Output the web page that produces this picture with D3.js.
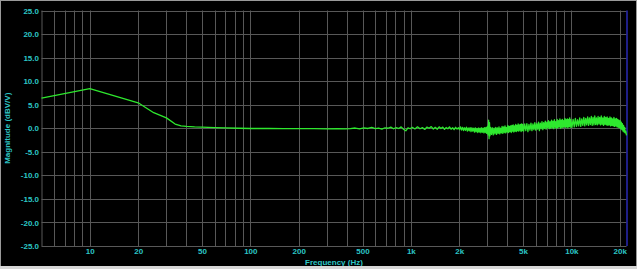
<!DOCTYPE html>
<html>
<head>
<meta charset="utf-8">
<script src="https://cdn.jsdelivr.net/npm/d3@7"></script>
<style>
  html, body { margin: 0; padding: 0; background: #000; }
  svg { display: block; }
  .lbl { font-family: "Liberation Sans", Arial, sans-serif; font-weight: bold; font-size: 8px; fill: #2cc6c6; }
</style>
</head>
<body>
<div id="container"></div>
<script>
// axis ticks
const xTickValues = [10, 20, 50, 100, 200, 500, 1000, 2000, 5000, 10000, 20000];
const xTickLabels = ["10", "20", "50", "100", "200", "500", "1k", "2k", "5k", "10k", "20k"];
const xGridValues = [6, 7, 8, 9, 10, 20, 30, 40, 50, 60, 70, 80, 90, 100, 200, 300, 400, 500, 600, 700, 800, 900,
  1000, 2000, 3000, 4000, 5000, 6000, 7000, 8000, 9000, 10000, 20000];
const yTickValues = [25, 20, 15, 10, 5, 0, -5, -10, -15, -20, -25];

// magnitude response, [Hz, dBV/V]
const lowBand = [[5, 6.4], [10, 8.4], [20, 5.4], [25, 3.3], [30, 2.2], [34, 0.9], [37, 0.5], [40, 0.4], [45, 0.3],
  [50, 0.25], [60, 0.15], [70, 0.1], [85, 0.0], [100, -0.05], [130, -0.05], [160, -0.1], [200, -0.1], [250, -0.1],
  [300, -0.12], [350, -0.1], [390, -0.15]];

const midBand = [[420, -0.1], [450, 0.05], [480, -0.15], [510, 0.1], [540, -0.05], [570, 0.2], [600, -0.1], [630, 0.05],
  [660, -0.2], [690, 0.1], [720, 0.0], [750, 0.25], [780, -0.1], [810, 0.15], [840, -0.05], [870, 0.3], [900, -0.2],
  [930, -0.55], [960, 0.1], [990, -0.1],
  [1020, 0.2], [1060, -0.15], [1100, 0.3], [1140, -0.1], [1180, 0.15], [1220, -0.25], [1260, 0.25], [1300, 0.0],
  [1340, 0.35], [1380, -0.15], [1420, 0.2], [1460, -0.2], [1500, 0.3], [1540, -0.05], [1580, 0.25], [1620, -0.25],
  [1660, 0.15], [1700, -0.1], [1740, 0.3], [1780, -0.2], [1820, 0.1], [1860, -0.3], [1900, 0.2], [1940, -0.15], [1980, 0.1],
  [2010, -0.3], [2040, 0.3], [2070, -0.4], [2100, 0.2], [2130, -0.5], [2160, 0.1], [2190, -0.45], [2220, 0.25],
  [2250, -0.6], [2280, 0.05], [2310, -0.55], [2340, 0.15], [2370, -0.7], [2400, 0.1], [2430, -0.6], [2460, 0.0],
  [2490, -0.8], [2520, 0.1], [2550, -0.75], [2580, -0.05], [2610, -0.9], [2640, 0.05], [2670, -0.8], [2700, 0.0],
  [2730, -0.95], [2760, 0.1], [2790, -0.85], [2820, 0.0], [2850, -1.0], [2880, 0.15], [2910, -0.9], [2940, 0.2],
  [2970, -1.1], [3000, 0.4], [3030, -1.4], [3050, 1.7], [3070, -2.2], [3090, 1.2], [3110, -1.6]];

const highBand = [[3140, 0.2], [3180, -1.3], [3220, 0.1], [3260, -1.4], [3300, 0.0], [3340, -1.2], [3380, 0.2],
  [3420, -1.3], [3460, 0.1], [3500, -1.1], [3540, 0.3], [3580, -1.2], [3620, 0.0], [3660, -1.0], [3700, 0.4],
  [3740, -1.1], [3780, 0.3], [3820, -0.9], [3860, 0.5], [3900, -1.0], [3940, 0.2], [3980, -0.8], [4020, 0.6],
  [4060, -0.9], [4100, 0.4], [4140, -0.7], [4180, 0.5], [4220, -0.9], [4260, 0.6], [4300, -0.6], [4340, 0.7],
  [4380, -0.8], [4420, 0.5], [4460, -0.6], [4500, 0.8], [4540, -0.7], [4580, 0.6], [4620, -0.5], [4660, 0.9],
  [4700, -0.6], [4740, 0.7], [4780, -0.4], [4820, 0.8], [4860, -0.7], [4900, 0.9], [4940, -0.5], [4980, 0.8],
  [5040, -0.6], [5120, 0.9], [5200, -0.5], [5280, 1.0], [5360, -0.7], [5440, 0.8], [5520, -0.4], [5600, 1.1],
  [5680, -0.5], [5760, 0.9], [5840, -0.3], [5920, 1.2], [6000, -0.4], [6080, 1.0], [6160, -0.2], [6240, 1.3],
  [6320, -0.5], [6400, 1.1], [6480, -0.1], [6560, 1.4], [6640, -0.3], [6720, 1.2], [6800, 0.0], [6880, 1.5],
  [6960, -0.2], [7040, 1.3], [7120, 0.1], [7200, 1.6], [7280, -0.1], [7360, 1.4], [7440, 0.0], [7520, 1.7],
  [7600, 0.1], [7680, 1.5], [7760, -0.1], [7840, 1.8], [7920, 0.2], [8000, 1.4], [8080, 0.0], [8160, 1.9],
  [8240, 0.1], [8320, 1.6], [8400, 0.3], [8480, 2.0], [8560, 0.0], [8640, 1.7], [8720, 0.2], [8800, 1.9],
  [8880, 0.1], [8960, 1.6], [9040, 0.4], [9120, 2.1], [9200, 0.2], [9280, 1.8], [9360, 0.3], [9440, 2.0],
  [9520, 0.1], [9600, 1.9], [9680, 0.4], [9760, 2.2], [9840, 0.2], [9920, 1.8],
  [10080, 0.2], [10250, 1.9], [10420, 0.3], [10590, 2.1], [10760, 0.4], [10930, 1.8], [11100, 0.5], [11270, 2.2],
  [11440, 0.4], [11610, 2.0], [11780, 0.6], [11950, 2.3], [12120, 0.5], [12290, 2.1], [12460, 0.7], [12630, 2.4],
  [12800, 0.6], [12970, 2.2], [13140, 0.8], [13310, 2.5], [13480, 0.6], [13650, 2.3], [13820, 0.7], [13990, 2.6],
  [14160, 0.8], [14330, 2.2], [14500, 0.7], [14670, 2.5], [14840, 0.9], [15010, 2.3], [15180, 0.7], [15350, 2.6],
  [15520, 0.8], [15690, 2.2], [15860, 0.6], [16030, 2.5], [16200, 0.8], [16370, 2.3], [16540, 0.7], [16710, 2.4],
  [16880, 0.6], [17050, 2.1], [17220, 0.7], [17390, 2.4], [17560, 0.5], [17730, 2.2], [17900, 0.6], [18070, 2.0],
  [18240, 0.5], [18410, 2.3], [18580, 0.4], [18750, 2.0], [18920, 0.5], [19090, 2.1], [19260, 0.3], [19430, 1.9],
  [19600, 0.2], [19770, 1.7], [19940, 0.1], [20110, 1.6], [20280, -0.1], [20450, 1.3], [20620, -0.3], [20790, 1.0],
  [20960, -0.6], [21130, 0.6], [21300, -0.8], [21470, 0.2], [21640, -1.0], [21810, -0.6], [22050, -1.5]];

const W = 637, H = 269;
const plotLeft = 41.5, plotRight = 626.5, plotTop = 10.5, plotBottom = 246;

const svg = d3.select("#container").append("svg")
  .attr("width", W)
  .attr("height", H);

svg.append("rect").attr("width", W).attr("height", H).attr("fill", "#000");

const x = d3.scaleLog().domain([5, 22050]).range([plotLeft, plotRight]);
const y = d3.scaleLinear().domain([-25, 25]).range([plotBottom, plotTop]);

// grid
const grid = svg.append("g").attr("stroke", "#585858").attr("stroke-width", 1);
grid.selectAll(".vg").data(xGridValues).enter().append("line")
  .attr("class", "vg")
  .attr("x1", d => Math.round(x(d)) + 0.5).attr("x2", d => Math.round(x(d)) + 0.5)
  .attr("y1", plotTop).attr("y2", plotBottom);
grid.selectAll(".hg").data(yTickValues).enter().append("line")
  .attr("class", "hg")
  .attr("x1", plotLeft).attr("x2", plotRight)
  .attr("y1", d => Math.round(y(d)) + 0.5).attr("y2", d => Math.round(y(d)) + 0.5);
grid.append("line").attr("x1", plotLeft + 0.5).attr("x2", plotLeft + 0.5).attr("y1", plotTop).attr("y2", plotBottom);

// right edge marker
svg.append("line")
  .attr("x1", plotRight + 0.5).attr("x2", plotRight + 0.5)
  .attr("y1", plotTop).attr("y2", plotBottom)
  .attr("stroke", "#2a2ab4").attr("stroke-width", 1.5);

// axes labels
const xAxis = svg.append("g")
  .attr("transform", "translate(0," + plotBottom + ")")
  .call(d3.axisBottom(x).tickValues(xTickValues).tickSize(0).tickPadding(2.5)
    .tickFormat((d, i) => xTickLabels[i]));
xAxis.select(".domain").remove();
xAxis.selectAll("text").attr("class", "lbl").attr("fill", null);

const yAxis = svg.append("g")
  .attr("transform", "translate(" + (plotLeft - 1.5) + ",0)")
  .call(d3.axisLeft(y).tickValues(yTickValues).tickSize(0).tickPadding(1)
    .tickFormat(d => d3.format(".1f")(d).replace("−", "-")));
yAxis.select(".domain").remove();
yAxis.selectAll("text").attr("class", "lbl").attr("fill", null);

svg.append("text").attr("class", "lbl")
  .attr("x", (plotLeft + plotRight) / 2).attr("y", 264.5)
  .attr("text-anchor", "middle")
  .text("Frequency (Hz)");

svg.append("text").attr("class", "lbl")
  .attr("transform", "translate(10," + ((plotTop + plotBottom) / 2) + ") rotate(-90)")
  .attr("text-anchor", "middle")
  .text("Magnitude (dBV/V)");

// trace
const line = d3.line().x(d => x(d[0])).y(d => y(d[1]));
const trace = lowBand.concat(midBand, highBand);
svg.append("path")
  .datum(trace)
  .attr("d", line)
  .attr("fill", "none")
  .attr("stroke", "#2ee82e")
  .attr("stroke-width", 1.3)
  .attr("stroke-linejoin", "round");

// window frame
svg.append("rect").attr("x", 0.5).attr("y", 0.5).attr("width", W - 1).attr("height", H - 1)
  .attr("fill", "none").attr("stroke", "#9a9a9a");
svg.append("rect").attr("x", 0).attr("y", 266).attr("width", W).attr("height", 3).attr("fill", "#d6d6d6");
</script>
</body>
</html>
